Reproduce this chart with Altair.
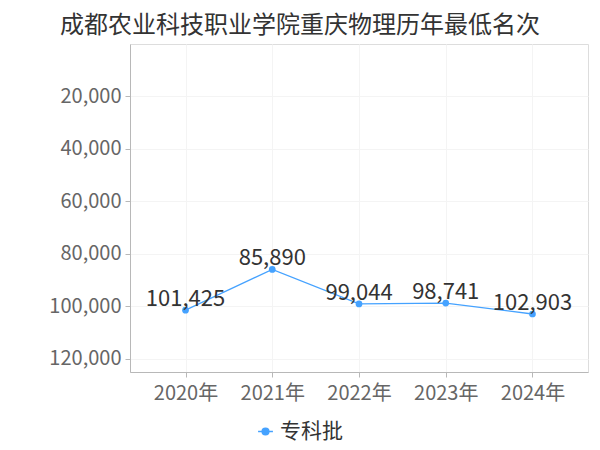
import altair as alt
import pandas as pd

years = ["2020年", "2021年", "2022年", "2023年", "2024年"]
ranks = [101425, 85890, 99044, 98741, 102903]
series = ["专科批"] * 5

df = pd.DataFrame({"year": years, "rank": ranks, "series": series})

FONT = "Noto Sans CJK SC"
BLUE = "#45a2ff"

x = alt.X("year:N", sort=years, title=None,
          scale=alt.Scale(type="point", padding=0.64),
          axis=alt.Axis(labelAngle=0, labelFontSize=20, labelColor="#666666",
                        labelFont=FONT, labelPadding=6, tickSize=5,
                        tickColor="#b8b8b8", domainColor="#b8b8b8",
                        grid=True, gridColor="#f4f4f4"))
y = alt.Y("rank:Q", title=None,
          scale=alt.Scale(domain=[0, 125000], reverse=True, nice=False, zero=False),
          axis=alt.Axis(values=[20000, 40000, 60000, 80000, 100000, 120000],
                        format=",d", labelFontSize=20, labelColor="#666666",
                        labelFont=FONT, labelPadding=4, tickSize=5,
                        tickColor="#b8b8b8", domainColor="#b8b8b8",
                        grid=True, gridColor="#f4f4f4"))

color = alt.Color("series:N", title=None,
                  scale=alt.Scale(range=[BLUE]),
                  legend=alt.Legend(orient="none", legendX=125, legendY=377,
                                    labelFontSize=21, labelColor="#333333",
                                    labelFont=FONT,
                                    symbolType="M-1,0L1,0M-0.45,0A0.45,0.45,0,1,0,0.45,0A0.45,0.45,0,1,0,-0.45,0",
                                    symbolSize=220, symbolStrokeWidth=1.5,
                                    symbolFillColor=BLUE, symbolStrokeColor=BLUE,
                                    labelOffset=4))

base = alt.Chart(df).encode(x=x, y=y)

line = base.mark_line(strokeWidth=1.3, point=alt.OverlayMarkDef(size=45, filled=True, opacity=1)).encode(
    color=color)

labels = base.mark_text(fontSize=22, font=FONT, color="#333333",
                        baseline="alphabetic", dy=-4).encode(
    text=alt.Text("rank:Q", format=","))

chart = alt.layer(line, labels).properties(
    width=458, height=328,
    autosize=alt.AutoSizeParams(type="none"),
    padding={"left": 122, "top": 36, "right": 4, "bottom": 70},
    title=alt.TitleParams("成都农业科技职业学院重庆物理历年最低名次", fontSize=24,
                          font=FONT, color="#333333", fontWeight="normal",
                          anchor="middle", frame="group", dx=-59, offset=6),
).configure_view(stroke="#f4f4f4").configure(background="white")

chart.save("out.html", embed_options={"renderer": "svg", "actions": False})
